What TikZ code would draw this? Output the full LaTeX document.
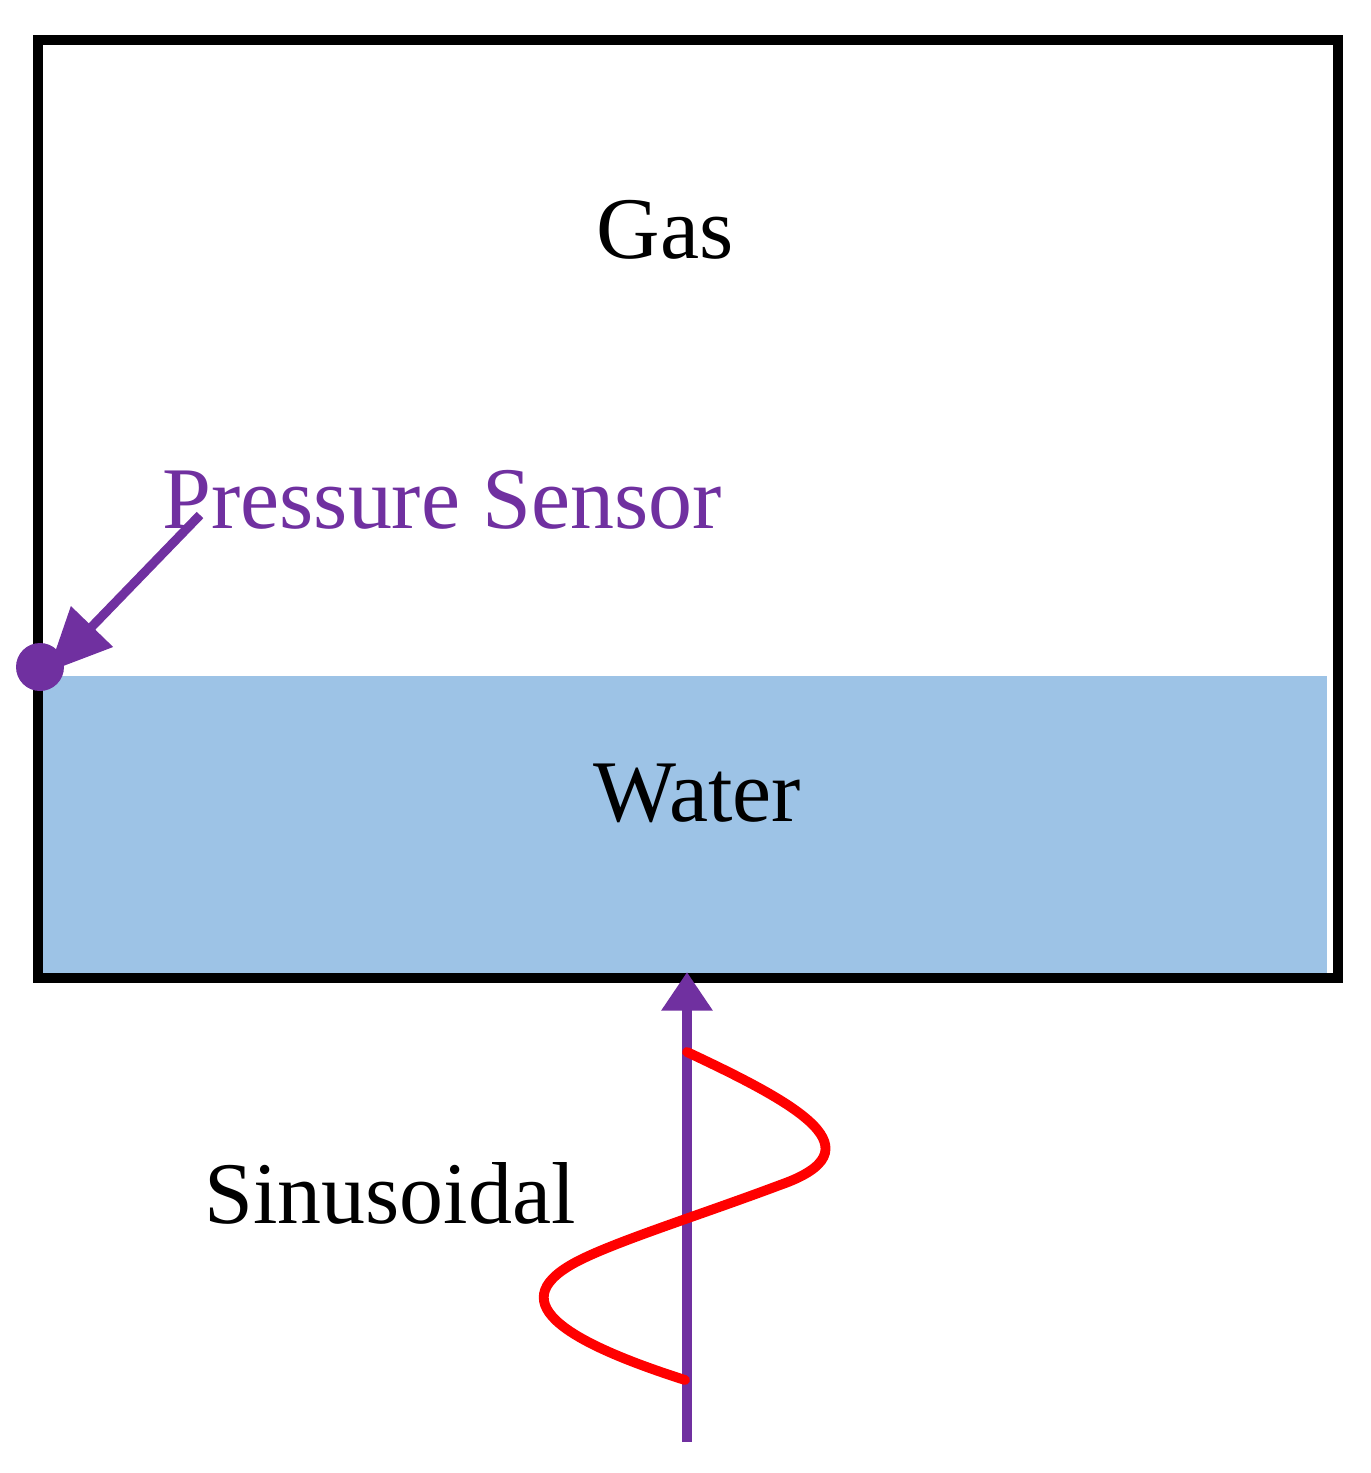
\documentclass[tikz,border=0pt]{standalone}
\usepackage{fontspec}
\setmainfont{Liberation Serif}
\usetikzlibrary{arrows.meta}
\definecolor{pur}{HTML}{7030A0}
\definecolor{wat}{HTML}{9DC3E6}
\begin{document}
\begin{tikzpicture}[x=0.01cm,y=-0.01cm,
  lbl/.style={font=\fontsize{25}{29}\selectfont,inner sep=0}]
\useasboundingbox (0,0) rectangle (1371,1473);
\fill[wat] (42,676) rectangle (1327,973);
\draw[line width=2.85pt] (38,40) rectangle (1338,978);
\node[lbl] (gas) at (665,230) {Gas};
\node[lbl] (water) at (697,793) {Water};
\node[lbl,text=pur] (ps) at (442,500) {Pressure Sensor};
\node[lbl] (sin) at (390,1193) {Sinusoidal};
\fill[pur] (40,667) circle (24) coordinate (dot);
\coordinate (a0) at (200,515);
\coordinate (a1) at (48,672);
\draw[pur,line width=2.6pt,-{Triangle[length=18pt,width=16pt]}] (a0) -- (a1);
\coordinate (b0) at (687,1442);
\coordinate (b1) at (687,972);
\draw[pur,line width=2.6pt,-{Triangle[length=11pt,width=14pt]}] (b0) -- (b1);
\draw[red,line width=2.8pt,line cap=round] (687,1052) .. controls (800,1105) and (880,1150) .. (780,1185)
  .. controls (700,1215) and (620,1240) .. (580,1260)
  .. controls (500,1300) and (560,1340) .. (685,1380);
\end{tikzpicture}
\end{document}
